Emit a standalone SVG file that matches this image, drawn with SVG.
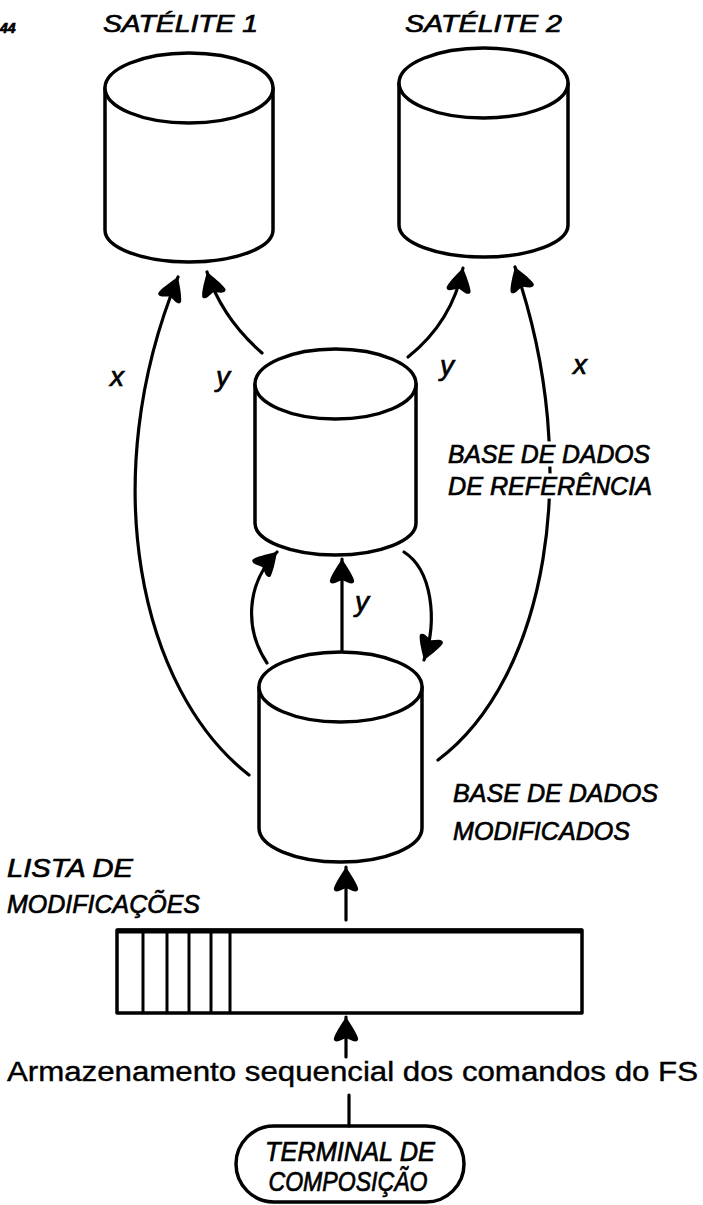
<svg xmlns="http://www.w3.org/2000/svg" width="703" height="1205" viewBox="0 0 703 1205">
<style>
.shape{fill:#fff;stroke:#000;stroke-width:3.5;stroke-linejoin:round;stroke-linecap:round}
.cn{fill:none;stroke:#000;stroke-width:3.2;stroke-linecap:round}
.lbl{font-family:"Liberation Sans",Arial,sans-serif;font-style:italic;fill:#000;stroke:#000;stroke-width:0.7}
.halo{fill:#fff;stroke:#fff;stroke-width:7;stroke-linejoin:round}
.script{font-family:"Liberation Sans",Arial,sans-serif;fill:#000;stroke:#000;stroke-width:0.4}
</style>
<defs>
<marker id="ah" viewBox="0 0 26 26" refX="25" refY="13" markerWidth="26" markerHeight="26" markerUnits="userSpaceOnUse" orient="auto">
<path d="M25,13 C19,9 10,3 4,1 C1,0 0,3 1,6 L4,13 L1,20 C0,23 1,26 4,25 C10,23 19,17 25,13 Z" fill="#000"/>
</marker>
</defs>
<rect width="703" height="1205" fill="#fff"/>
<text class="lbl" x="0" y="33" font-size="14" font-weight="bold">44</text>

<g id="satelite1">
<path class="shape" d="M105,88 L105,230 A84,32 0 0 0 273,230 L273,88"/>
<ellipse class="shape" cx="189" cy="88" rx="84" ry="35"/>
<text class="lbl" x="103" y="32" font-size="24" textLength="155" lengthAdjust="spacingAndGlyphs">SATÉLITE 1</text>
</g>

<g id="satelite2">
<path class="shape" d="M399,83 L399,225 A84.5,32 0 0 0 568,225 L568,83"/>
<ellipse class="shape" cx="483.5" cy="83" rx="84.5" ry="35"/>
<text class="lbl" x="405" y="32" font-size="24" textLength="157" lengthAdjust="spacingAndGlyphs">SATÉLITE 2</text>
</g>

<g id="base-referencia">
<path class="shape" d="M255,384 L255,523 A80.5,32 0 0 0 416,523 L416,384"/>
<ellipse class="shape" cx="335.5" cy="384" rx="80.5" ry="35"/>
</g>

<g id="base-modificados">
<path class="shape" d="M259,687 L259,828 A81.5,34 0 0 0 422,828 L422,687"/>
<ellipse class="shape" cx="340.5" cy="687" rx="81.5" ry="35"/>
</g>

<g id="lista-modificacoes">
<rect class="shape" x="117" y="930" width="465" height="83"/>
<line x1="117" y1="931" x2="582" y2="931" stroke="#000" stroke-width="5"/>
<g stroke="#000" stroke-width="3">
<line x1="143" y1="930" x2="143" y2="1013"/>
<line x1="167" y1="930" x2="167" y2="1013"/>
<line x1="189" y1="930" x2="189" y2="1013"/>
<line x1="211" y1="930" x2="211" y2="1013"/>
<line x1="230" y1="930" x2="230" y2="1013"/>
</g>
<text class="lbl" x="7" y="877" font-size="26" textLength="126" lengthAdjust="spacingAndGlyphs">LISTA DE</text>
<text class="lbl" x="7" y="913" font-size="26" textLength="193" lengthAdjust="spacingAndGlyphs">MODIFICAÇÕES</text>
</g>

<g id="terminal">
<rect class="shape" x="236" y="1126" width="228" height="76" rx="38" ry="38"/>
<text class="lbl" x="350" y="1161" font-size="27" text-anchor="middle" textLength="170" lengthAdjust="spacingAndGlyphs">TERMINAL DE</text>
<text class="lbl" x="348" y="1191" font-size="27" text-anchor="middle" textLength="159" lengthAdjust="spacingAndGlyphs">COMPOSIÇÃO</text>
</g>

<g id="connectors">
<path class="cn" d="M249,775 C140,690 95,480 178,277" marker-end="url(#ah)"/>
<path class="cn" d="M262,353 Q222,318 207,272" marker-end="url(#ah)"/>
<path class="cn" d="M408,357 Q452,322 463,268" marker-end="url(#ah)"/>
<path class="cn" d="M438,760 C545,680 585,470 515,267" marker-end="url(#ah)"/>
<path class="cn" d="M267,663 C245,630 245,585 277,552" marker-end="url(#ah)"/>
<path class="cn" d="M404,552 C432,570 438,620 424,660" marker-end="url(#ah)"/>
<path class="cn" d="M342,650 L342,559" marker-end="url(#ah)"/>
<path class="cn" d="M346,920 L346,867" marker-end="url(#ah)"/>
<path class="cn" d="M346,1057 L346,1017" marker-end="url(#ah)"/>
<path class="cn" d="M349,1095 L349,1126"/>
</g>

<g id="labels">
<text class="lbl" x="117" y="386" font-size="28" text-anchor="middle">x</text>
<text class="lbl" x="223" y="386" font-size="28" text-anchor="middle">y</text>
<text class="lbl" x="447" y="375" font-size="28" text-anchor="middle">y</text>
<text class="lbl" x="580" y="374" font-size="28" text-anchor="middle">x</text>
<text class="lbl" x="362" y="611" font-size="28" text-anchor="middle">y</text>
<text class="lbl halo" x="448" y="463" font-size="25" textLength="202" lengthAdjust="spacingAndGlyphs">BASE DE DADOS</text>
<text class="lbl halo" x="448" y="495" font-size="25" textLength="204" lengthAdjust="spacingAndGlyphs">DE REFERÊNCIA</text>
<text class="lbl" x="448" y="463" font-size="25" textLength="202" lengthAdjust="spacingAndGlyphs">BASE DE DADOS</text>
<text class="lbl" x="448" y="495" font-size="25" textLength="204" lengthAdjust="spacingAndGlyphs">DE REFERÊNCIA</text>
<text class="lbl" x="453" y="802" font-size="26" textLength="205" lengthAdjust="spacingAndGlyphs">BASE DE DADOS</text>
<text class="lbl" x="453" y="840" font-size="26" textLength="177" lengthAdjust="spacingAndGlyphs">MODIFICADOS</text>
<text class="script" x="7" y="1081" font-size="27" textLength="691" lengthAdjust="spacingAndGlyphs">Armazenamento sequencial dos comandos do FS</text>
</g>
</svg>
